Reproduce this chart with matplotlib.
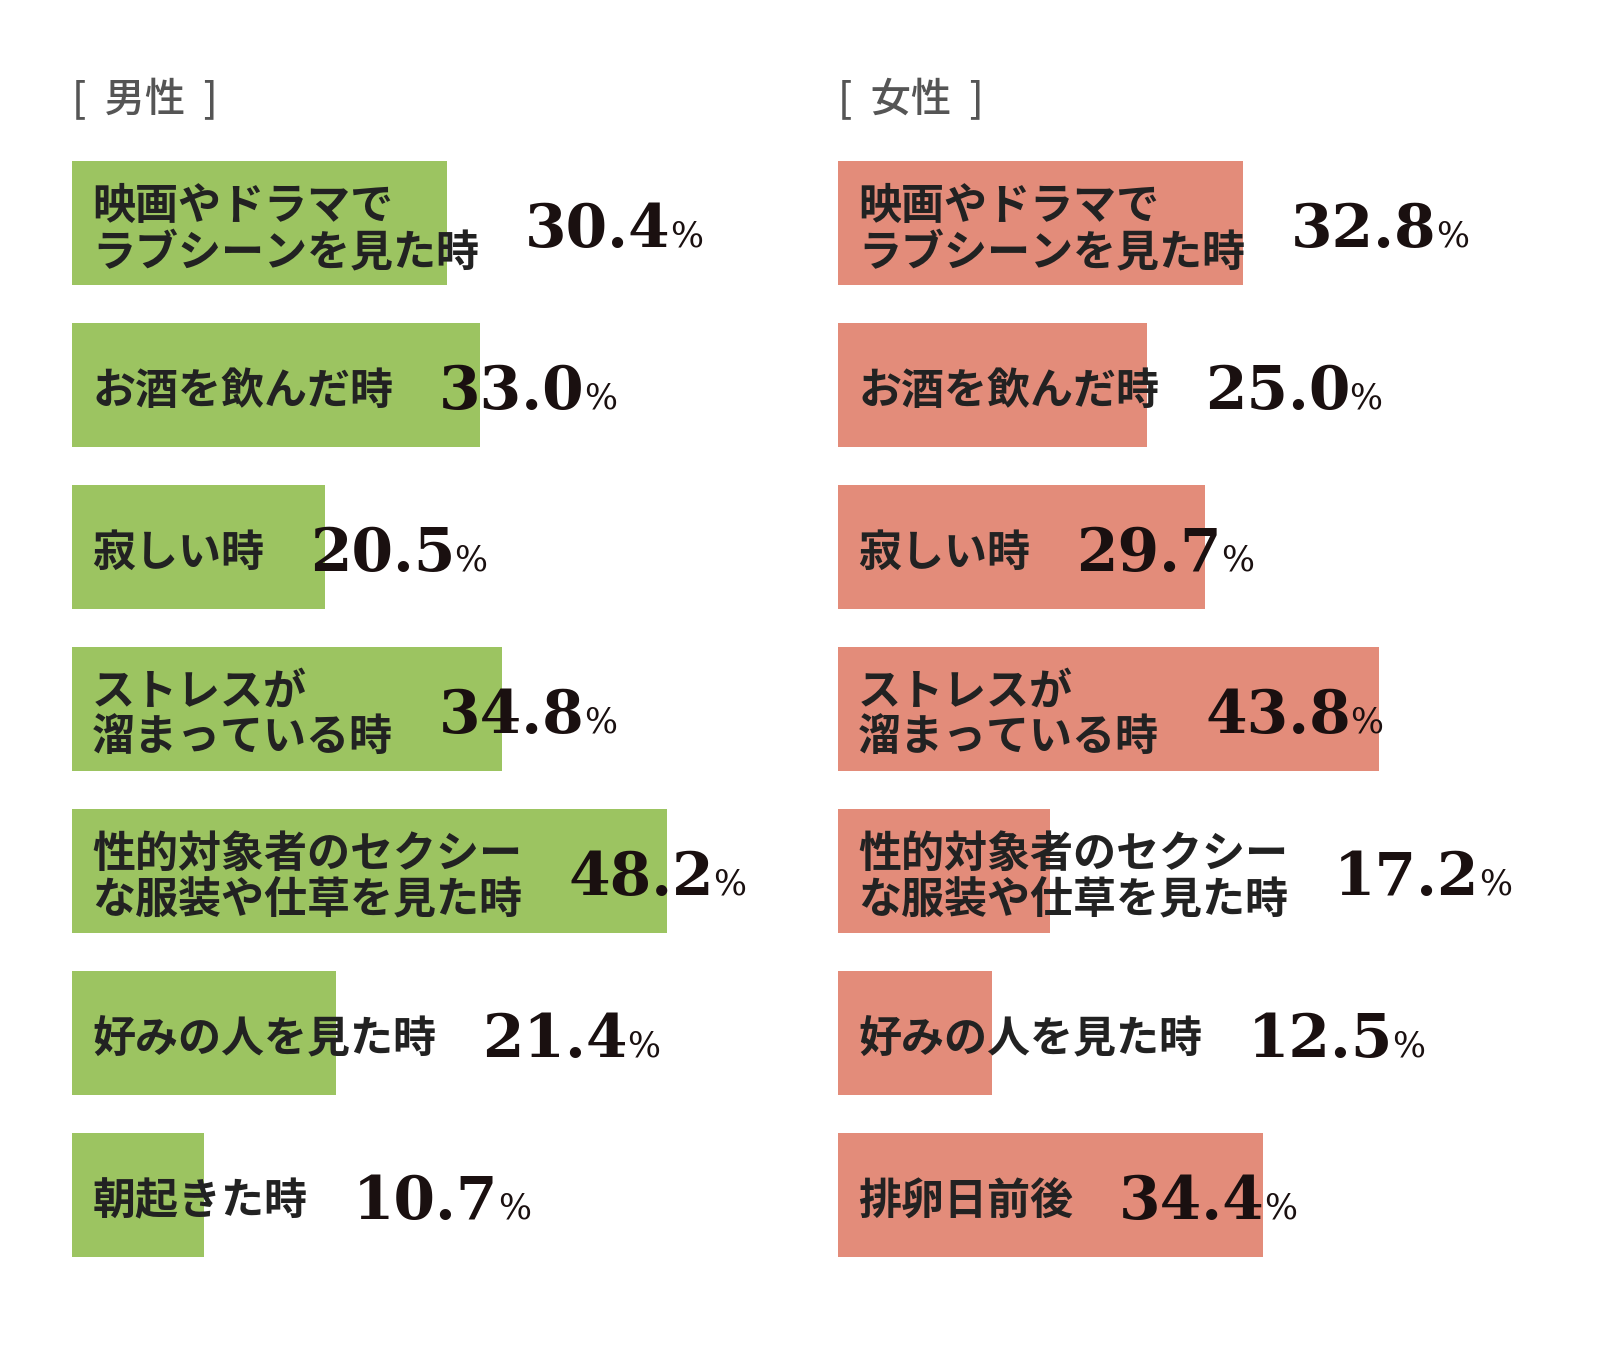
import matplotlib
matplotlib.use("Agg")
from matplotlib import pyplot as plt

plt.rcParams['font.family'] = ['Noto Sans CJK JP', 'DejaVu Sans']

# data
men_labels = ["映画やドラマで\nラブシーンを見た時", "お酒を飲んだ時", "寂しい時", "ストレスが\n溜まっている時",
              "性的対象者のセクシー\nな服装や仕草を見た時", "好みの人を見た時", "朝起きた時"]
men_values = [30.4, 33.0, 20.5, 34.8, 48.2, 21.4, 10.7]
women_labels = ["映画やドラマで\nラブシーンを見た時", "お酒を飲んだ時", "寂しい時", "ストレスが\n溜まっている時",
                "性的対象者のセクシー\nな服装や仕草を見た時", "好みの人を見た時", "排卵日前後"]
women_values = [32.8, 25.0, 29.7, 43.8, 17.2, 12.5, 34.4]
titles = ["[  男性  ]", "[  女性  ]"]

W, H = 1600, 1350
PX_PER_PCT = 12.35
fig = plt.figure(figsize=(16, 13.5), dpi=100)
renderer = fig.canvas.get_renderer()

panels = [
	(men_labels, men_values, "#9cc461", 72),
	(women_labels, women_values, "#e38c7a", 838),
]

for k, (labels, values, color, left_px) in enumerate(panels):
	ax = fig.add_axes([left_px / W, 1 - 1276 / H, 60 * PX_PER_PCT / W, 1134 / H])
	ax.set_xlim(0, 60)
	ax.set_ylim(6.5, -0.5)
	ax.axis("off")
	ys = list(range(len(values)))
	ax.barh(ys, values, height=0.77, color=color, left=0)

	fig.text(left_px / W, 1 - 100 / H, titles[k], fontsize=29, color="#555555",
			 va="center", ha="left", fontweight="medium")

	for y, lab, v in zip(ys, labels, values):
		t = ax.annotate(lab, xy=(0, y), xytext=(14.5, -4.5), textcoords="offset points",
						fontsize=31, fontweight="bold", color="#222222", va="center", ha="left",
						linespacing=1.06)
		ext = t.get_window_extent(renderer)
		x_num = ax.transData.inverted().transform((ext.x1 + 46, 0))[0]
		n = ax.annotate("%.1f" % v, xy=(x_num, y), xytext=(0, -17), textcoords="offset points",
						fontsize=43, fontweight="bold", family="DejaVu Serif", color="#1a1010",
						va="baseline", ha="left")
		ne = n.get_window_extent(renderer)
		x_pc = ax.transData.inverted().transform((ne.x1 - 1, 0))[0]
		ax.annotate("%", xy=(x_pc, y), xytext=(0, -17), textcoords="offset points",
					fontsize=25, family="DejaVu Serif", color="#1a1010",
					va="baseline", ha="left")

fig.savefig("out.png", dpi=100, facecolor="white")
